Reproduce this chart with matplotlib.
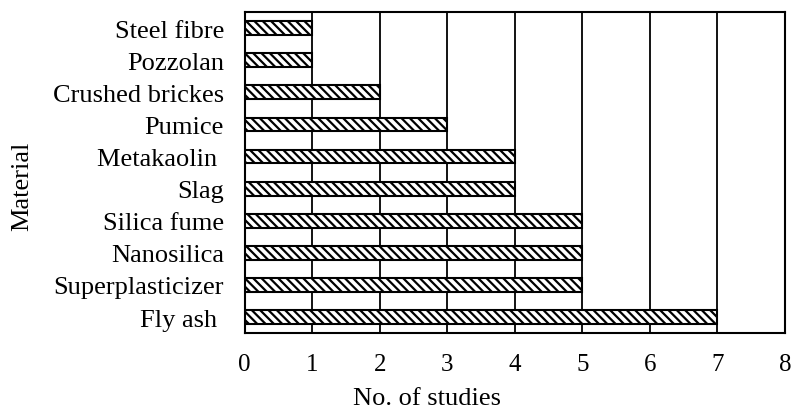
import matplotlib
matplotlib.use("Agg")
import matplotlib.pyplot as plt

materials = ["Fly ash ", "Superplasticizer", "Nanosilica", "Silica fume", "Slag",
             "Metakaolin ", "Pumice", "Crushed brickes", "Pozzolan", "Steel fibre"]
studies = [7, 5, 5, 5, 4, 4, 3, 2, 1, 1]
xticks = [0, 1, 2, 3, 4, 5, 6, 7, 8]

plt.rcParams["font.family"] = ["Liberation Serif", "DejaVu Serif"]
plt.rcParams["font.size"] = 19
plt.rcParams["hatch.linewidth"] = 1.6

fig = plt.figure(figsize=(7.92, 4.10), dpi=100)
ax = fig.add_axes([0.309, 0.185, 0.682, 0.783])

ypos = list(range(len(materials)))
ax.barh(ypos, studies, height=0.43, color="white", edgecolor="black",
        linewidth=1.5, hatch="\\\\\\\\", zorder=3)

ax.set_xlim(0, 8)
ax.set_ylim(-0.5, len(materials) - 0.5)
ax.set_xticks(xticks)
ax.set_yticks(ypos)
ax.set_yticklabels(materials, fontsize=19)
ax.tick_params(axis="both", length=0)
ax.tick_params(axis="x", pad=14, labelsize=18)
ax.tick_params(axis="y", pad=15)
ax.xaxis.grid(True, color="black", linewidth=1.3, zorder=1)
ax.set_axisbelow(True)
for s in ax.spines.values():
    s.set_linewidth(1.5)

fig.text(427 / 792, 1 - 399 / 410, "No. of studies", ha="center", va="center", fontsize=19)
fig.text(22 / 792, 1 - 186 / 410, "Material", ha="center", va="center",
         rotation=90, fontsize=19)

fig.savefig("out.png", dpi=100)
